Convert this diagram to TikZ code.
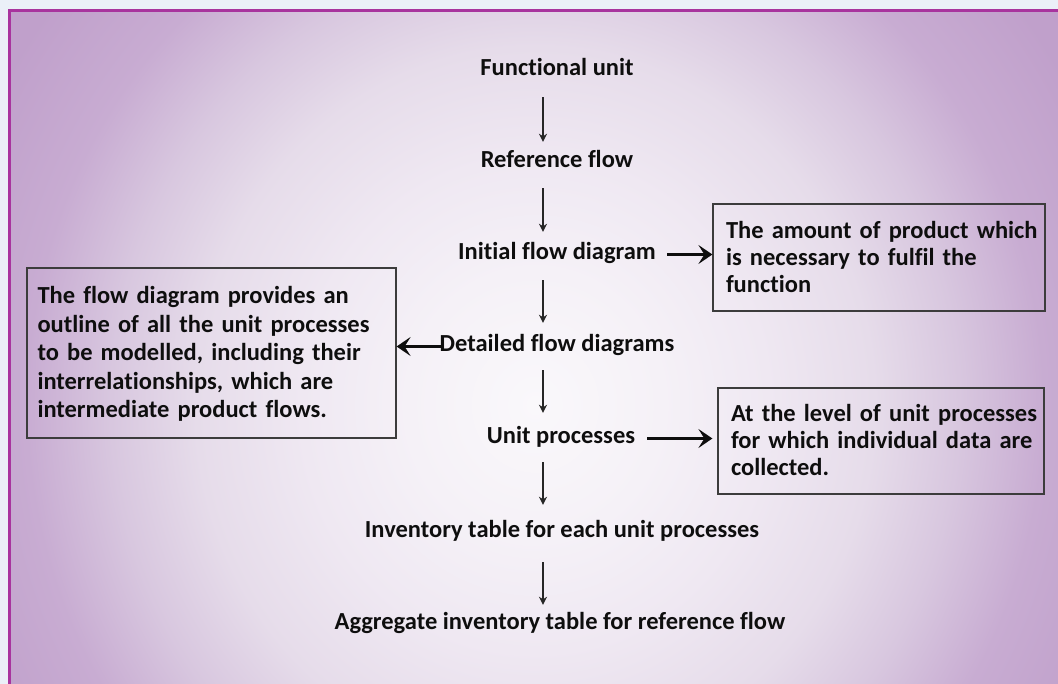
\documentclass[tikz,border=0pt]{standalone}
\usepackage{fontspec}
\setmainfont{Carlito}[Ligatures={NoCommon}]
\usetikzlibrary{arrows.meta}

\definecolor{marginc}{HTML}{EBF0F8}
\definecolor{framec}{HTML}{A8349E}
\definecolor{boxline}{HTML}{3C3C3C}
\definecolor{arrowc}{HTML}{262626}
\definecolor{inkc}{HTML}{0E0E0E}
\definecolor{glowA}{HTML}{FAF8FB}
\definecolor{glowB}{HTML}{F5F1F7}
\definecolor{glowC}{HTML}{EFE8F2}
\definecolor{glowD}{HTML}{E6DCEA}
\definecolor{glowE}{HTML}{D8C7DF}
\definecolor{glowF}{HTML}{C8ACD2}
\definecolor{glowG}{HTML}{C0A0CB}
\definecolor{glowH}{HTML}{BE9CC9}

% soft glow; the half-size of the shaded box sits at 25bp
\pgfdeclareradialshading{bgglow}{\pgfpoint{0bp}{0bp}}{%
  color(0bp)=(glowA); color(6bp)=(glowB); color(11bp)=(glowC);
  color(16bp)=(glowD); color(20bp)=(glowE); color(24bp)=(glowF);
  color(29bp)=(glowG); color(36bp)=(glowH); color(50bp)=(glowH)}

% one justified line of a note: spaces stretched to the full width
\newcommand{\jline}[1]{\makebox[\linewidth][s]{#1}}

\begin{document}
\begin{tikzpicture}[x=1pt, y=-1pt,
  font=\bfseries\fontsize{24.5}{27}\selectfont,
  lbl/.style={inner sep=0pt, text height=17pt, text depth=6pt, anchor=base, text=inkc},
  note/.style={draw=boxline, line width=1.2pt, inner sep=0pt, align=left, text=inkc},
  thinarrow/.style={draw=arrowc, line width=1.3pt,
    -{Stealth[length=8pt, width=8pt, inset=2.5pt]}},
  thickarrow/.style={draw=inkc, line width=3.6pt,
    -{Stealth[length=14pt, width=19pt, inset=6pt]}}]

% page and background
\useasboundingbox (0,0) rectangle (1058,684);
\clip (0,0) rectangle (1058,684);
\fill[marginc] (0,0) rectangle (1058,684);
\begin{scope}
  \clip (9.5,11) rectangle (1075,700);
  \shade[shading=bgglow] (5,-155) rectangle (1065,965);
\end{scope}
\draw[framec, line width=3pt] (9.5,11) rectangle (1075,700);

% main chain
\node[lbl] (fu)  at (557,76)  {Functional unit};
\node[lbl] (rf)  at (557,168) {Reference flow};
\node[lbl] (ifd) at (557,260) {Initial flow diagram};
\node[lbl] (dfd) at (557,352) {Detailed flow diagrams};
\node[lbl] (up)  at (561,444) {Unit processes};
\node[lbl] (inv) at (562,537) {Inventory table for each unit processes};
\node[lbl] (agg) at (560,629) {Aggregate inventory table for reference flow};

% explanatory notes
\node[note, minimum width=332pt, minimum height=107pt, text width=306pt]
  (b1) at (879,257.5)
  {\rule{0pt}{22pt}\jline{The amount of product which}\\
   \jline{is necessary to fulfil the}\\
   function\rule[-6pt]{0pt}{6pt}};

\node[note, minimum width=369pt, minimum height=170pt, text width=348pt,
      font=\bfseries\fontsize{24.5}{28.5}\selectfont]
  (b2) at (211.5,353)
  {\rule{0pt}{22pt}\jline{The flow diagram provides an}\\
   \jline{outline of all the unit processes}\\
   \jline{to be modelled, including their}\\
   \jline{interrelationships, which are}\\
   intermediate product flows.\rule[-6pt]{0pt}{6pt}};

\node[note, minimum width=326pt, minimum height=106pt, text width=300pt]
  (b3) at (881,441)
  {\rule{0pt}{22pt}\jline{At the level of unit processes}\\
   \jline{for which individual data are}\\
   collected.\rule[-6pt]{0pt}{6pt}};

% vertical axis of the thin arrows
\coordinate (axis) at (543,0);

\draw[thinarrow, shorten <=15pt, shorten >=9pt]  (fu.south -| axis)  -- (rf.north -| axis);
\draw[thinarrow, shorten <=14pt, shorten >=11pt] (rf.south -| axis)  -- (ifd.north -| axis);
\draw[thinarrow, shorten <=14pt, shorten >=12pt] (ifd.south -| axis) -- (dfd.north -| axis);
\draw[thinarrow, shorten <=12pt, shorten >=14pt] (dfd.south -| axis) -- (up.north -| axis);
\draw[thinarrow, shorten <=12pt, shorten >=15pt] (up.south -| axis)  -- (inv.north -| axis);
\draw[thinarrow, shorten <=19pt, shorten >=7pt]  (inv.south -| axis) -- (agg.north -| axis);

% thick arrows to the notes
\draw[thickarrow, shorten <=11pt] (ifd.east) -- (ifd.east -| b1.west);
\draw[thickarrow, shorten <=-1pt] (dfd.west) -- (dfd.west -| b2.east);
\draw[thickarrow, shorten <=12pt, shorten >=5pt] (up.east) -- (up.east -| b3.west);

\end{tikzpicture}
\end{document}
